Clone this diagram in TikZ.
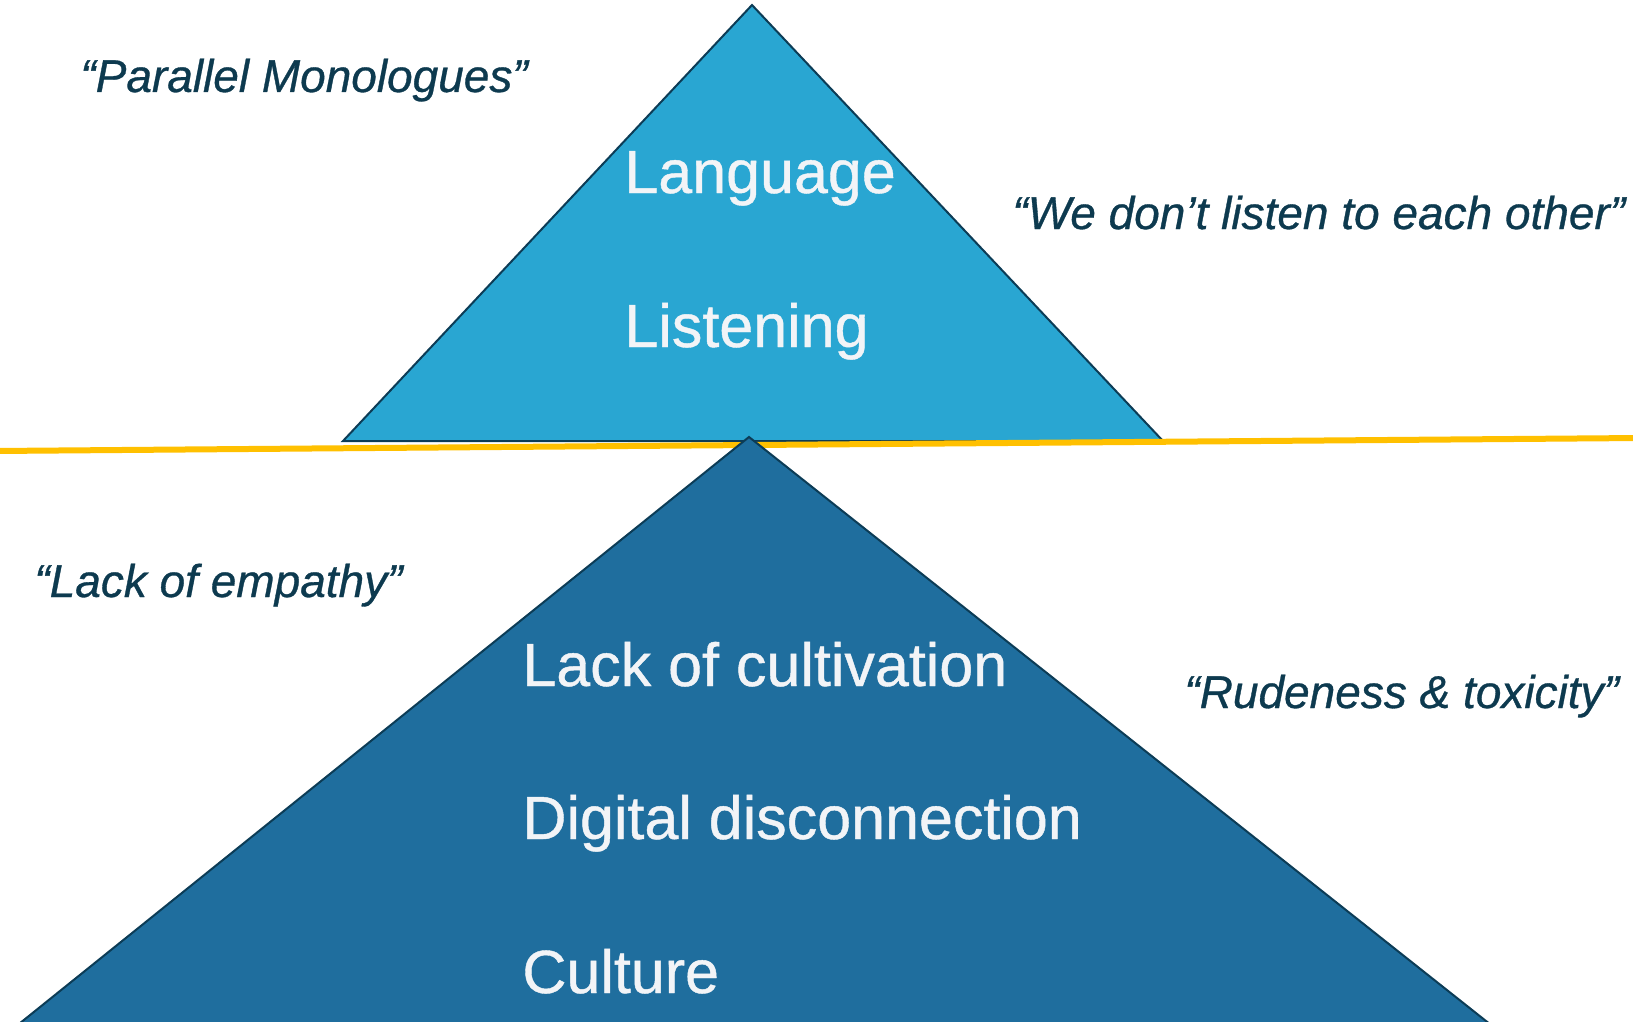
\documentclass[tikz,border=0pt]{standalone}
\usepackage{fontspec}
\setmainfont{Liberation Sans}
\newfontfamily\medsans[FakeBold=0.7]{Liberation Sans}
\definecolor{topfill}{RGB}{41,166,210}
\definecolor{botfill}{RGB}{31,110,158}
\definecolor{edge}{RGB}{12,60,86}
\definecolor{labeltext}{RGB}{242,244,247}
\definecolor{quotetext}{RGB}{13,58,79}
\definecolor{beam}{RGB}{255,192,0}
\tikzset{
  tri/.style={draw=edge, line width=1pt, line join=miter},
  mainlabel/.style={anchor=base west, inner sep=0pt, text=labeltext, font=\medsans\fontsize{30.5}{36}\selectfont},
  quotelabel/.style={anchor=base west, inner sep=0pt, text=quotetext, font=\medsans\fontsize{23}{27}\itshape\selectfont},
}
\begin{document}
\begin{tikzpicture}[x=0.5pt, y=-0.5pt]
\useasboundingbox (0,0) rectangle (1633,1022);
\clip (0,0) rectangle (1633,1022);
% upper triangle
\coordinate (ta) at (752,5);
\coordinate (tl) at (343,441);
\coordinate (tr) at (1163,441);
\fill[topfill] (ta) -- (tl) -- (tr) -- cycle;
\draw[tri] (ta) -- (tl) -- (tr) -- cycle;
% yellow line
\coordinate (yl) at (-5,451);
\coordinate (yr) at (1640,438);
\draw[beam, line width=3pt] (yl) -- (yr);
% lower triangle
\coordinate (ba) at (749,437);
\coordinate (bl) at (-1,1040);
\coordinate (br) at (1510,1040);
\fill[botfill] (ba) -- (bl) -- (br) -- cycle;
\draw[tri] (bl) -- (ba) -- (br);
% labels
\node[mainlabel] (lang) at (624,193) {Language};
\node[mainlabel] (list) at (624,347) {Listening};
\node[mainlabel] (cult) at (522,686) {Lack of cultivation};
\node[mainlabel] (digi) at (522,839) {Digital disconnection};
\node[mainlabel] (cltr) at (522,993) {Culture};
% quotes
\node[quotelabel] (q1) at (80,92) {“Parallel Monologues”};
\node[quotelabel] (q2) at (1012,229) {“We don’t listen to each other”};
\node[quotelabel] (q3) at (34,597) {“Lack of empathy”};
\node[quotelabel] (q4) at (1184,708) {“Rudeness \& toxicity”};
\end{tikzpicture}
\end{document}
